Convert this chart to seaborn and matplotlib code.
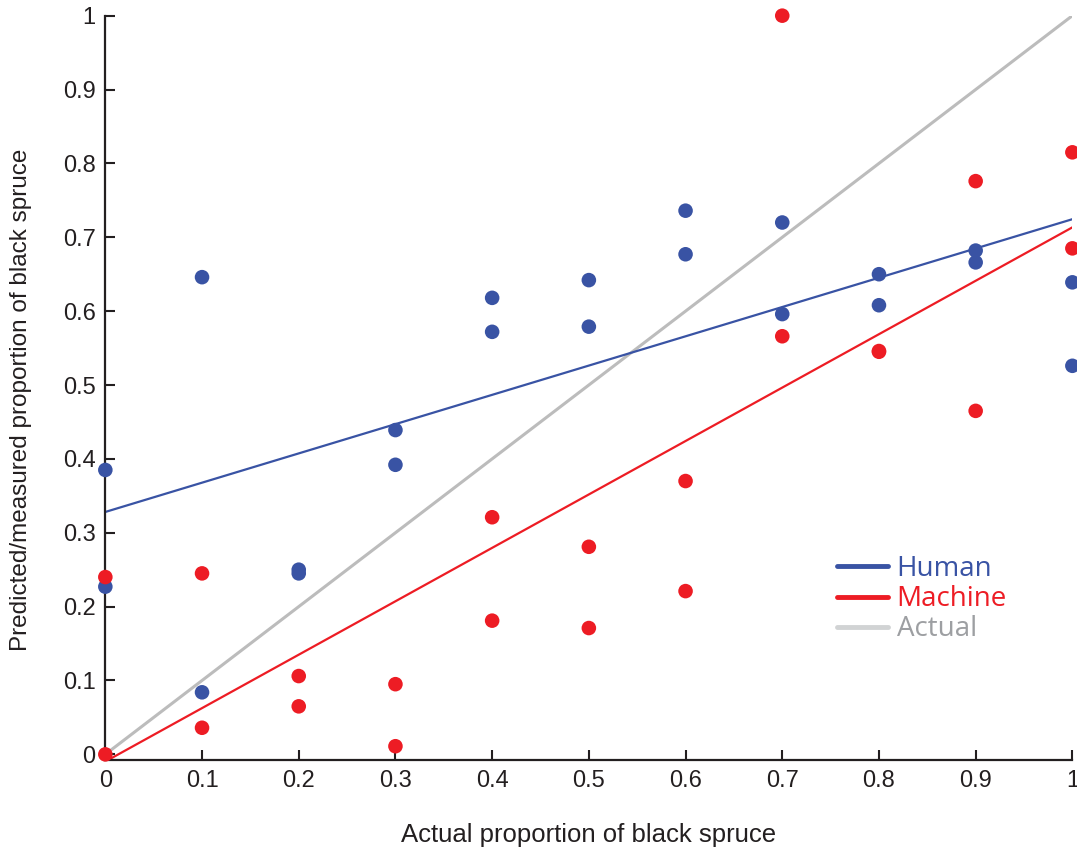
import pandas as pd
import matplotlib.pyplot as plt
import seaborn as sns
from matplotlib.lines import Line2D

# Значения
actual = [0, 0, 0.1, 0.1, 0.2, 0.2, 0.3, 0.3, 0.4, 0.4, 0.5, 0.5,
          0.6, 0.6, 0.7, 0.7, 0.8, 0.8, 0.9, 0.9, 1.0, 1.0]
human = [0.385, 0.227, 0.646, 0.084, 0.250, 0.245, 0.439, 0.392, 0.618, 0.572, 0.642, 0.579,
         0.736, 0.677, 0.720, 0.596, 0.650, 0.608, 0.682, 0.666, 0.639, 0.526]
machine = [0.240, 0.000, 0.245, 0.036, 0.106, 0.065, 0.095, 0.011, 0.321, 0.181, 0.281, 0.171,
           0.370, 0.221, 1.000, 0.566, 0.546, 0.545, 0.776, 0.465, 0.815, 0.685]
identity_x = [0, 1]
identity_y = [0, 1]
tick_vals = [0, 0.1, 0.2, 0.3, 0.4, 0.5, 0.6, 0.7, 0.8, 0.9, 1]
tick_labels = ["0", "0.1", "0.2", "0.3", "0.4", "0.5", "0.6", "0.7", "0.8", "0.9", "1"]

blue = "#3953a4"
red = "#ed1c24"
grey_line = "#bcbcbc"

df = pd.DataFrame({
    "actual": actual * 2,
    "predicted": human + machine,
    "source": ["Human"] * len(human) + ["Machine"] * len(machine),
})

sns.set_style("ticks")
plt.rcParams["font.family"] = ["Liberation Sans", "DejaVu Sans"]

fig = plt.figure(figsize=(10.77, 8.47), dpi=100)
ax = fig.add_axes([0.0978, 0.1024, 0.8979, 0.8791])

# линия "Actual" (1:1)
sns.lineplot(x=identity_x, y=identity_y, ax=ax, color=grey_line, lw=2.2, zorder=1)

# линии регрессии
sns.regplot(x=actual, y=human, ax=ax, scatter=False, ci=None,
            line_kws={"color": blue, "lw": 1.6, "zorder": 2})
sns.regplot(x=actual, y=machine, ax=ax, scatter=False, ci=None,
            line_kws={"color": red, "lw": 1.6, "zorder": 2})

# точки
sns.scatterplot(data=df, x="actual", y="predicted", hue="source",
                palette={"Human": blue, "Machine": red}, s=110,
                edgecolor="none", legend=False, ax=ax, zorder=3, clip_on=False)

ax.set_xlim(0, 1)
ax.set_ylim(-0.008, 1.0)
ax.set_xticks(tick_vals)
ax.set_xticklabels(tick_labels)
ax.set_yticks(tick_vals)
ax.set_yticklabels(tick_labels)
ax.tick_params(direction="in", length=7, width=1.5, labelsize=17, colors="#231f20", pad=7)

for side in ["top", "right"]:
    ax.spines[side].set_visible(False)
for side in ["left", "bottom"]:
    ax.spines[side].set_linewidth(1.6)
    ax.spines[side].set_color("#231f20")

ax.set_xlabel("Actual proportion of black spruce", fontsize=18.5, labelpad=22, color="#231f20")
ax.set_ylabel("Predicted/measured proportion of black spruce", fontsize=17.5, labelpad=22,
              color="#231f20", y=0.484)

# легенда
handles = [Line2D([], [], color=blue, lw=3.5),
           Line2D([], [], color=red, lw=3.5),
           Line2D([], [], color="#d1d3d4", lw=3.5)]
leg = ax.legend(handles, ["Human", "Machine", "Actual"], loc="upper left",
                bbox_to_anchor=(837 / 1077, 1 - 555 / 847), bbox_transform=fig.transFigure,
                frameon=False, handlelength=1.85, handletextpad=0.3,
                labelspacing=0.08, borderpad=0, borderaxespad=0,
                prop={"family": ["Open Sans", "DejaVu Sans"], "size": 20})
for txt, col in zip(leg.get_texts(), [blue, red, "#9d9fa2"]):
    txt.set_color(col)

plt.savefig("out.png", dpi=100)
